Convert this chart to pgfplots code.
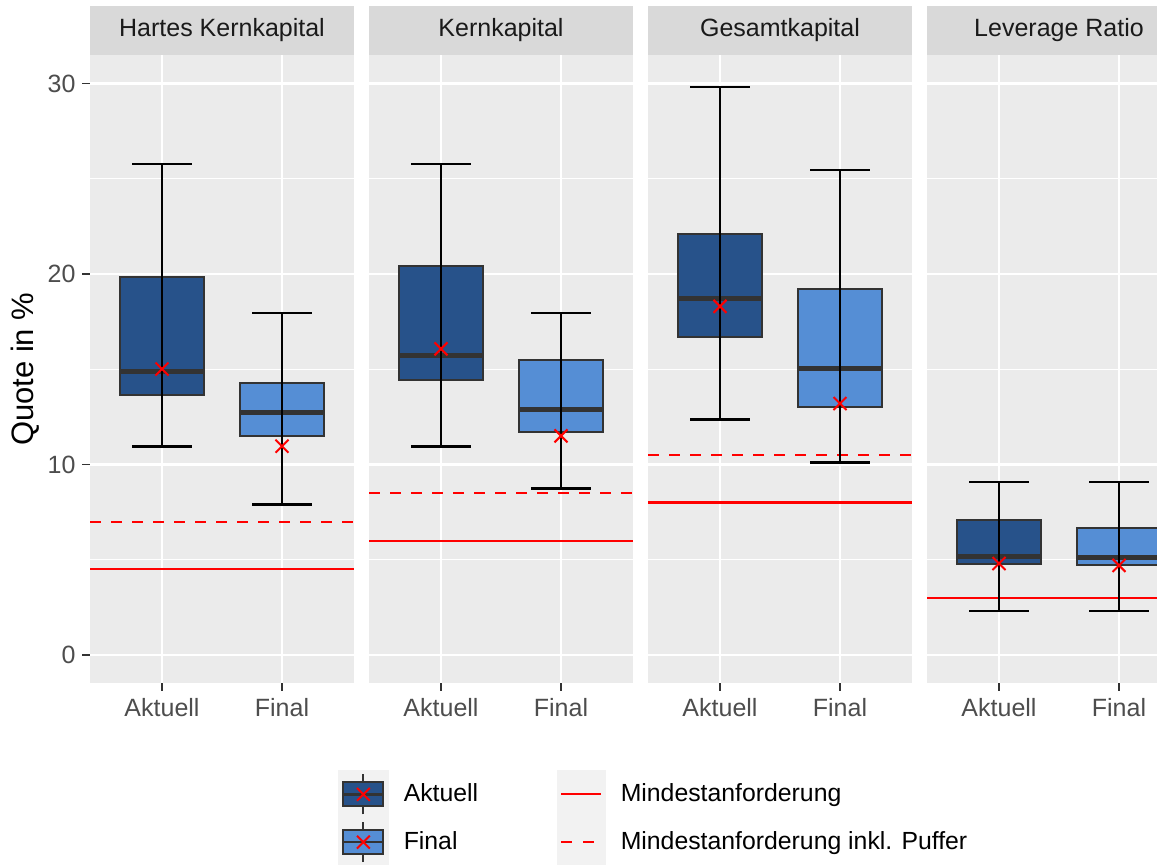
\documentclass[border=0pt]{standalone}
\usepackage{pgfplots}
\pgfplotsset{compat=1.18}
\usepackage{pgfplotstable}
\usepackage{fontspec}
\setmainfont{Liberation Sans}

\definecolor{panelbg}{HTML}{EBEBEB}
\definecolor{stripbg}{HTML}{D9D9D9}
\definecolor{keybg}{HTML}{F2F2F2}
\definecolor{aktuell}{HTML}{27528A}
\definecolor{final}{HTML}{558ED5}
\definecolor{boxedge}{HTML}{333333}
\definecolor{ticklab}{HTML}{4D4D4D}
\definecolor{striptext}{HTML}{1A1A1A}

% whiskers and means (x lw uw mean)
\pgfplotstableread{
x lw uw mean
1 10.94 25.77 15.01
2 7.90 17.96 10.96
}\tabA
\pgfplotstableread{
x lw uw mean
1 10.94 25.77 16.07
2 8.74 17.96 11.50
}\tabB
\pgfplotstableread{
x lw uw mean
1 12.36 29.84 18.30
2 10.10 25.45 13.20
}\tabC
\pgfplotstableread{
x lw uw mean
1 2.30 9.09 4.80
2 2.30 9.09 4.70
}\tabD

\pgfplotsset{
  facet/.style={
    scale only axis, width=132pt, height=314.25pt,
    anchor=south west,
    xmin=0.4, xmax=2.6, ymin=-1.5, ymax=31.5,
    axis background/.style={fill=panelbg},
    axis line style={draw=none},
    xtick={1,2}, xticklabels={Aktuell,Final},
    ytick={0,10,20,30}, minor ytick={5,15,25},
    grid=both,
    major grid style={white, line width=1.1pt},
    minor grid style={white, line width=0.55pt},
    tick align=outside, major tick length=3.75pt, minor tick length=0pt,
    tick style={boxedge, line width=0.9pt},
    xtick pos=bottom, ytick pos=left,
    ticklabel style={font=\fontsize{12.5}{15}\selectfont, text=ticklab},
    /pgf/number format/assume math mode=true,
    every axis title/.style={at={(0.5,1)}, anchor=south, fill=stripbg,
      minimum width=132pt, minimum height=24.5pt, inner sep=0pt,
      text=striptext, font=\fontsize{12.5}{15}\selectfont},
    legend style={draw=none, fill=none, inner sep=0pt, outer sep=0pt,
      row sep=0pt, column sep=7.5pt, anchor=north west,
      font=\fontsize{12.4}{15}\selectfont, nodes={inner sep=0pt}},
    legend cell align=left,
  },
  noy/.style={yticklabels={}, ytick style={draw=none}},
  boxfill/.style={fill=#1, draw=boxedge, line width=1pt, line join=miter, forget plot},
  medline/.style={boxedge, line width=2.5pt, forget plot},
  whisk/.style={draw=none, no marks, forget plot,
    error bars/.cd, y dir=both, y explicit, error mark=|,
    error bar style={draw=black, line width=1.1pt},
    error mark options={draw=black, line width=1.1pt, mark size=14.85pt}},
  meanmark/.style={only marks, mark=x, mark size=4.6pt, red,
    mark options={line width=1pt}, forget plot},
  minline/.style={red, line width=1.1pt, forget plot},
  bufline/.style={red, line width=1.1pt, dash pattern=on 5.5pt off 5pt, forget plot},
}

% box: #1 left x, #2 right x, #3 colour, #4 Q1, #5 median, #6 Q3
\newcommand{\qbox}[6]{%
  \addplot[boxfill=#3] coordinates {(#1,#4) (#2,#4) (#2,#6) (#1,#6)} -- cycle;
  \addplot[medline] coordinates {(#1,#5) (#2,#5)};
}
\newcommand{\whiskmean}[1]{%
  \addplot[whisk] table[x=x, y expr=(\thisrow{lw}+\thisrow{uw})/2,
    y error expr=(\thisrow{uw}-\thisrow{lw})/2] {#1};
  \addplot[meanmark] table[x=x, y=mean] {#1};
}

\begin{document}
\begin{tikzpicture}
\useasboundingbox (0,0) rectangle (578.5pt,432.5pt);
\clip (0,0) rectangle (578.5pt,432.5pt);

% Panel 1
\begin{axis}[facet, at={(45pt,90.75pt)}, title={Hartes Kernkapital},
  ylabel={Quote in \%},
  ylabel style={at={(axis description cs:-0.246,0.5)}, anchor=center,
    font=\fontsize{15.5}{18}\selectfont, text=black},
  legend style={at={(rel axis cs:0.9394,-0.1384)}}]
  \addplot[minline] coordinates {(0.4,4.5) (2.6,4.5)};
  \addplot[bufline] coordinates {(0.4,7.0) (2.6,7.0)};
  \qbox{0.65}{1.35}{aktuell}{13.63}{14.88}{19.86}
  \qbox{1.65}{2.35}{final}{11.52}{12.74}{14.26}
  \whiskmean{\tabA}
  \addlegendimage{legend image code/.code={
    \fill[keybg] (0pt,-11.75pt) rectangle (25pt,11.75pt);
    \draw[boxedge, line width=1pt] (12.5pt,-10pt) -- (12.5pt,10pt);
    \filldraw[fill=aktuell, draw=boxedge, line width=1pt] (2.5pt,-6pt) rectangle (22.5pt,6pt);
    \draw[boxedge, line width=1.3pt] (2.5pt,0pt) -- (22.5pt,0pt);
    \draw[red, line width=1pt] (9.3pt,-3.2pt) -- (15.7pt,3.2pt) (9.3pt,3.2pt) -- (15.7pt,-3.2pt);
  }}
  \addlegendentry{Aktuell}
  \addlegendimage{legend image code/.code={
    \fill[keybg] (0pt,-11.75pt) rectangle (25pt,11.75pt);
    \draw[boxedge, line width=1pt] (12.5pt,-10pt) -- (12.5pt,10pt);
    \filldraw[fill=final, draw=boxedge, line width=1pt] (2.5pt,-6pt) rectangle (22.5pt,6pt);
    \draw[boxedge, line width=1.3pt] (2.5pt,0pt) -- (22.5pt,0pt);
    \draw[red, line width=1pt] (9.3pt,-3.2pt) -- (15.7pt,3.2pt) (9.3pt,3.2pt) -- (15.7pt,-3.2pt);
  }}
  \addlegendentry{Final}
\end{axis}

% Panel 2
\begin{axis}[facet, noy, at={(184.5pt,90.75pt)}, title={Kernkapital},
  legend style={at={(rel axis cs:0.7121,-0.1384)}}]
  \addplot[minline] coordinates {(0.4,6.0) (2.6,6.0)};
  \addplot[bufline] coordinates {(0.4,8.5) (2.6,8.5)};
  \qbox{0.65}{1.35}{aktuell}{14.45}{15.70}{20.40}
  \qbox{1.65}{2.35}{final}{11.73}{12.88}{15.50}
  \whiskmean{\tabB}
  \addlegendimage{legend image code/.code={
    \fill[keybg] (0pt,-11.75pt) rectangle (24pt,11.75pt);
    \draw[red, line width=1.1pt] (2pt,0pt) -- (22pt,0pt);
  }}
  \addlegendentry{Mindestanforderung}
  \addlegendimage{legend image code/.code={
    \fill[keybg] (0pt,-11.75pt) rectangle (24pt,11.75pt);
    \draw[red, line width=1.1pt, dash pattern=on 5.5pt off 5.5pt] (2pt,0pt) -- (22pt,0pt);
  }}
  \addlegendentry{Mindestanforderung inkl. Puffer}
\end{axis}

% Panel 3
\begin{axis}[facet, noy, at={(324pt,90.75pt)}, title={Gesamtkapital}]
  \addplot[minline] coordinates {(0.4,8.0) (2.6,8.0)};
  \addplot[bufline] coordinates {(0.4,10.5) (2.6,10.5)};
  \qbox{0.65}{1.35}{aktuell}{16.70}{18.70}{22.10}
  \qbox{1.65}{2.35}{final}{13.04}{15.03}{19.20}
  \whiskmean{\tabC}
\end{axis}

% Panel 4
\begin{axis}[facet, noy, at={(463.5pt,90.75pt)}, title={Leverage Ratio}]
  \addplot[minline] coordinates {(0.4,3.0) (2.6,3.0)};
  \qbox{0.65}{1.35}{aktuell}{4.76}{5.18}{7.08}
  \qbox{1.65}{2.35}{final}{4.71}{5.13}{6.68}
  \whiskmean{\tabD}
\end{axis}
\end{tikzpicture}
\end{document}
